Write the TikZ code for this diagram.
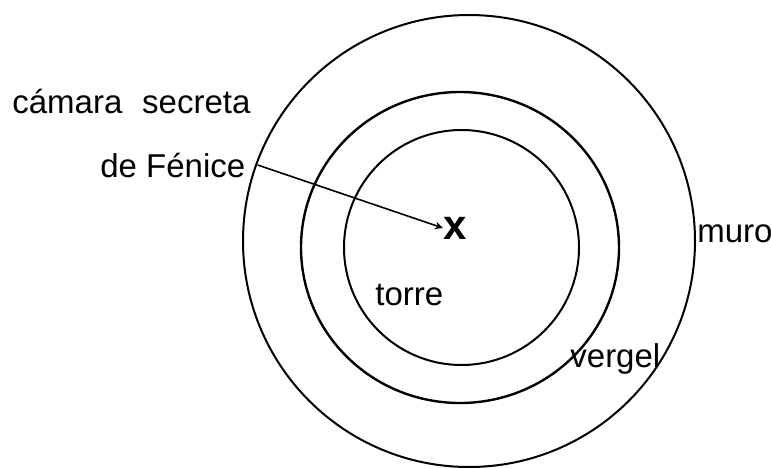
\documentclass[tikz,border=0pt]{standalone}
\usepackage{fontspec}
\setmainfont{Liberation Sans}

\begin{document}
\begin{tikzpicture}[x=0.5pt, y=0.5pt, >=stealth,
    etiqueta/.style={anchor=base west, inner sep=0pt, font=\fontsize{16.5}{20}\selectfont}]
    \useasboundingbox (0,0) rectangle (771,468);

    % 三个同心圆: 外墙 (muro), 果园 (vergel), 塔 (torre)
    \draw[line width=1pt] (469,227) circle [radius=226];
    \draw[line width=1.2pt] (460,220.5) ellipse [x radius=159, y radius=155.5];
    \draw[line width=1pt] (461.5,220.5) circle [radius=117.5];

    % 左上角的说明文字
    \node[etiqueta] (camara) at (12,355) {cámara\hskip0.6em secreta};
    \node[etiqueta] (fenice) at (100,291) {de Fénice};

    % 各区域的名称
    \node[etiqueta] (muro) at (697,226) {muro};
    \node[etiqueta] (torre) at (375,163) {torre};
    \node[etiqueta] (vergel) at (570,101) {vergel};

    % 中心的标记 x
    \node[inner sep=0pt, font=\fontsize{21}{21}\selectfont\bfseries] (marca) at (455,240) {x};

    % 从文字指向标记的箭头
    \draw[->, line width=0.8pt] ([xshift=6pt]fenice.east) -- (marca.west);
\end{tikzpicture}
\end{document}
